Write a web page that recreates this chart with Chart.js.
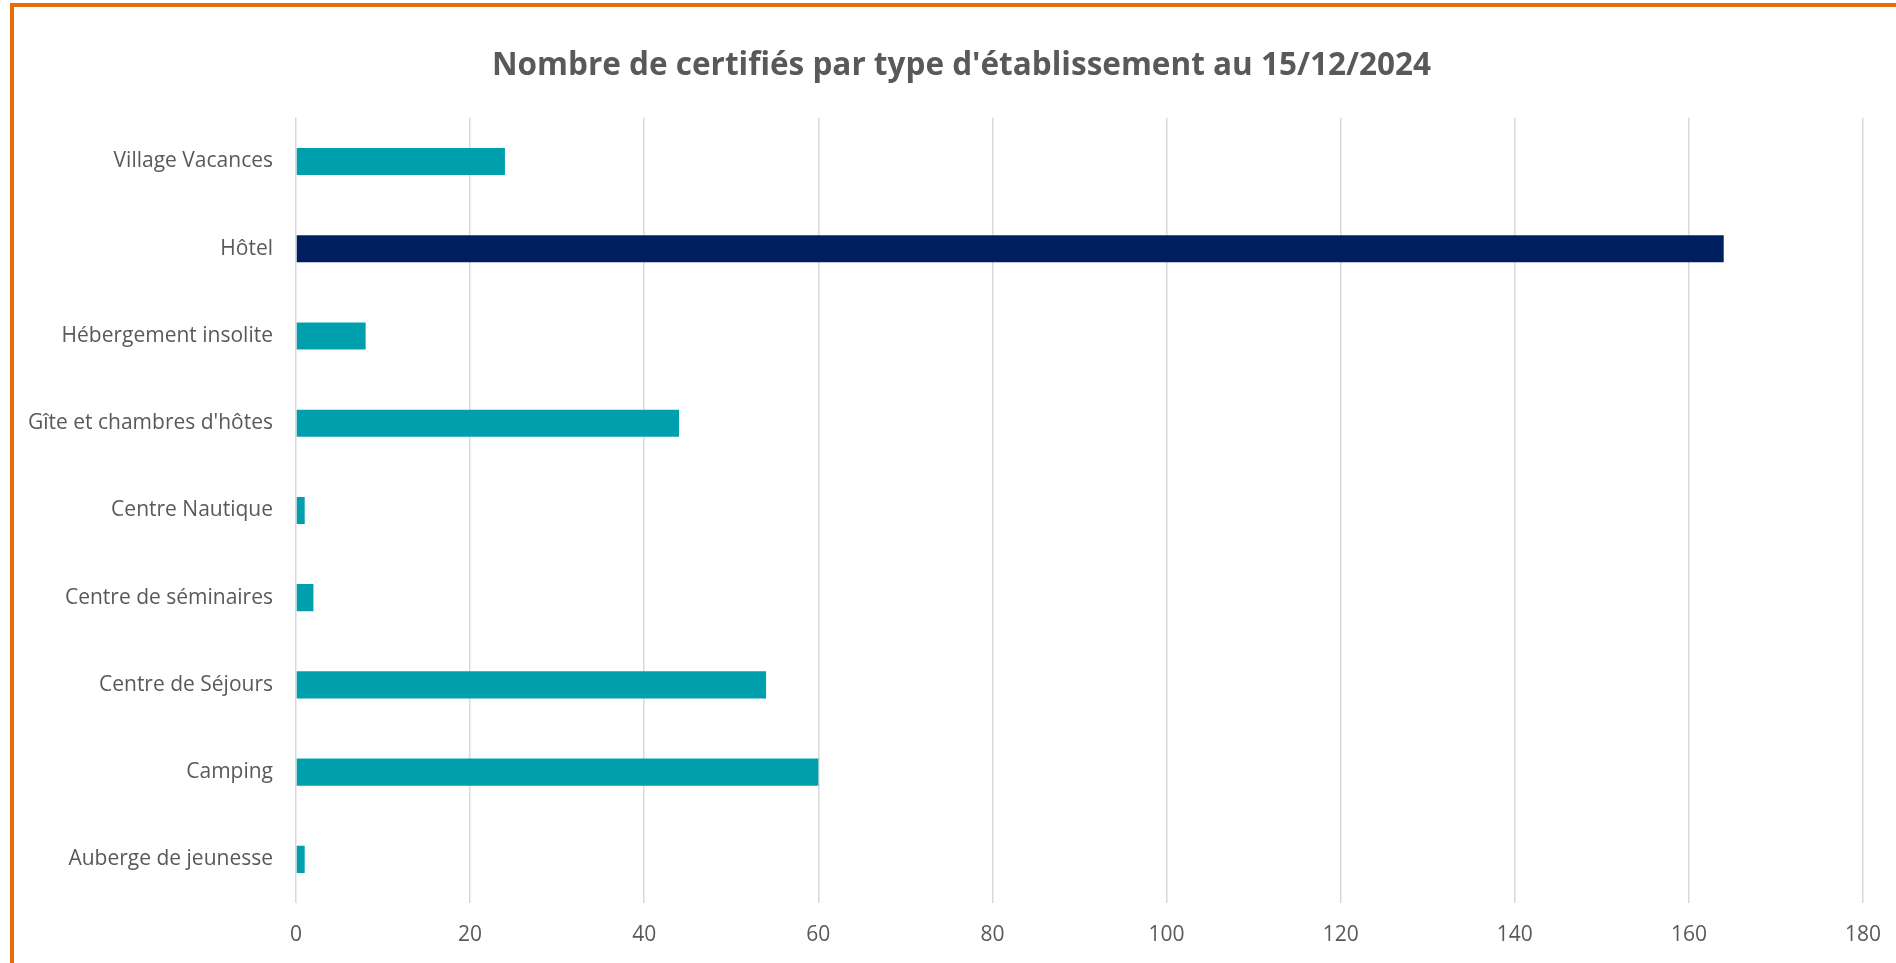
<!DOCTYPE html>
<html>
<head>
<meta charset="utf-8">
<script src="https://cdn.jsdelivr.net/npm/chart.js@4/dist/chart.umd.min.js"></script>
<style>
html, body { margin: 0; padding: 0; background: #fff; overflow: hidden; }
#frame { position: absolute; left: 10px; top: 3px; width: 2000px; height: 1100px; border: 4px solid #E46C0A; }
#wrap { position: absolute; left: 0; top: 0; width: 1896px; height: 963px; }
</style>
</head>
<body>
<div id="frame"></div>
<div id="wrap"><canvas id="chart"></canvas></div>
<script>
var categories = ['Village Vacances', 'Hôtel', 'Hébergement insolite', "Gîte et chambres d'hôtes", 'Centre Nautique', 'Centre de séminaires', 'Centre de Séjours', 'Camping', 'Auberge de jeunesse'];
var certifies = [24, 164, 8, 44, 1, 2, 54, 60, 1];
var xTicks = [0, 20, 40, 60, 80, 100, 120, 140, 160, 180];

var teal = '#009FAE';
var navy = '#001F5F';
var grey = '#595959';

Chart.defaults.font.family = "'Open Sans', sans-serif";
Chart.defaults.color = grey;

// the title sits a bit right of the canvas centre in the original
var shiftTitle = {
  id: 'shiftTitle',
  afterLayout: function (chart) {
    if (chart.titleBlock) chart.titleBlock.left = 60;
  }
};

var context = document.getElementById('chart').getContext('2d');
var chart = new Chart(context, {
  type: 'bar',
  data: {
    labels: categories,
    datasets: [{
      label: 'Nombre de certifiés',
      data: certifies,
      backgroundColor: function (ctx) { return categories[ctx.dataIndex] === 'Hôtel' ? navy : teal; },
      barPercentage: 0.31,
      categoryPercentage: 1
    }]
  },
  plugins: [shiftTitle],
  options: {
    indexAxis: 'y',
    responsive: true,
    maintainAspectRatio: false,
    animation: false,
    layout: { padding: { left: 0, right: 33, top: 0, bottom: 0 } },
    plugins: {
      legend: { display: false },
      tooltip: { enabled: false },
      title: {
        display: true,
        text: "Nombre de certifiés par type d'établissement au 15/12/2024",
        color: grey,
        font: { size: 31.5, weight: 'bold' },
        padding: { top: 47, bottom: 33 }
      }
    },
    scales: {
      x: {
        min: 0,
        max: 180,
        afterBuildTicks: function (axis) { axis.ticks = xTicks.map(function (v) { return { value: v }; }); },
        afterFit: function (axis) { axis.height = 60; axis.paddingLeft = 0; axis.paddingRight = 0; },
        grid: { color: '#d9d9d9', lineWidth: 1.5, drawTicks: false },
        border: { display: false },
        ticks: { padding: 19, font: { size: 21 }, color: grey }
      },
      y: {
        afterFit: function (axis) { axis.width = 296; axis.paddingTop = 0; axis.paddingBottom = 0; },
        grid: { display: false, drawTicks: false },
        border: { display: false },
        ticks: { padding: 23, font: { size: 21 }, color: grey }
      }
    }
  }
});
</script>
</body>
</html>
